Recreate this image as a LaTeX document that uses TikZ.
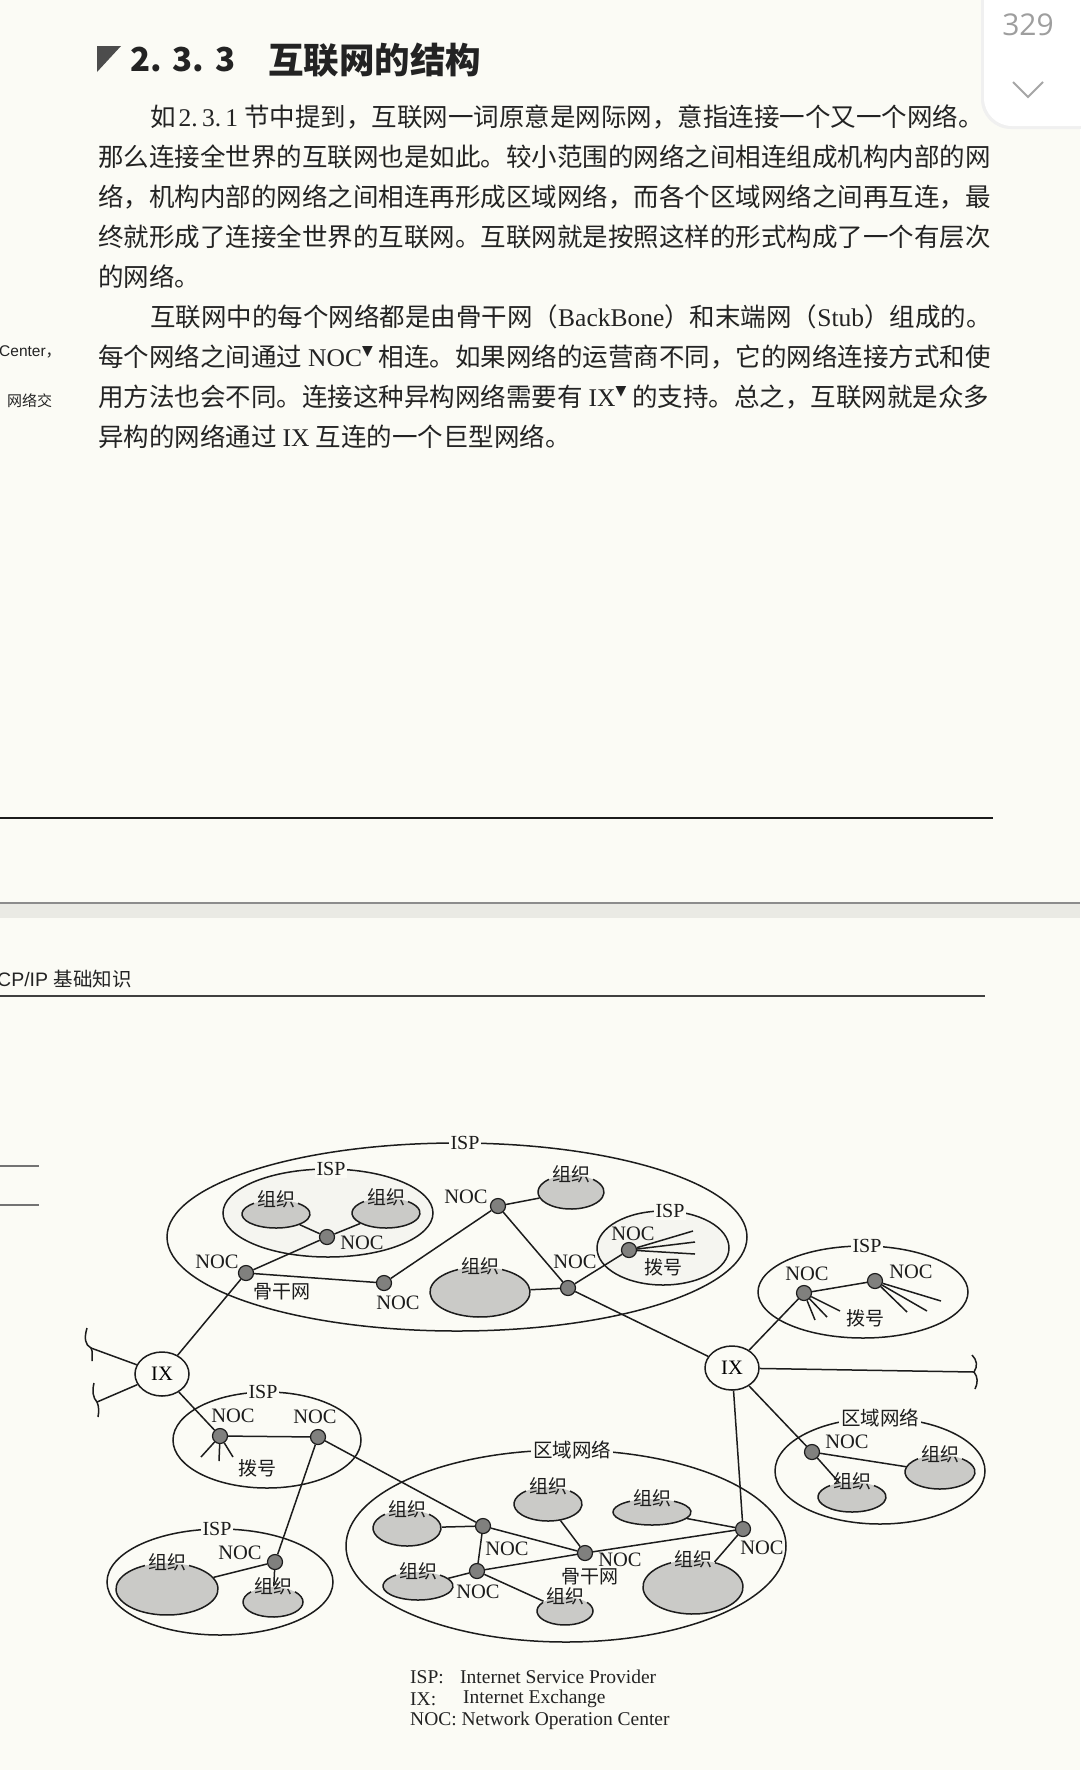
\documentclass[tikz,border=0pt]{standalone}
\usepackage{fontspec}
\setmainfont{Liberation Serif}
\setsansfont{Liberation Sans}
\newfontfamily\cjk{Noto Sans CJK SC}
\newfontfamily\dejavu{DejaVu Sans}
\newfontfamily\numfont{Open Sans}
\usetikzlibrary{shapes.geometric,calc}
\XeTeXlinebreaklocale "zh"
\XeTeXlinebreakskip=0pt plus 3pt minus 1pt
\definecolor{pagebg}{RGB}{251,251,245}
\definecolor{ink}{RGB}{28,28,28}
\definecolor{textcol}{RGB}{35,35,35}
\definecolor{orgfill}{RGB}{202,202,199}
\definecolor{nocfill}{RGB}{128,128,126}
\definecolor{innerfill}{RGB}{245,245,240}
\definecolor{bandcol}{RGB}{234,234,228}
\newcommand\lat[1]{{\rmfamily #1}}
\newcommand\tri{\raisebox{0.42em}{\dejavu\fontsize{14}{14}\selectfont ▼}}
\newcommand\bline[4]{\node[anchor=west,inner sep=0,body] at (#1,#2) {\makebox[#3pt][s]{#4}};}
\newcommand\orgnet[6]{%
  \node[orgshape,minimum width=#4*2pt,minimum height=#5*2pt] (#1) at (#2,#3) {};
  \pgfmathsetmacro\gapang{acos(min(0.9,22/#4))}%
  \draw[net] (#1.center) ++({180-\gapang}:#4pt and #5pt) arc[start angle={180-\gapang},end angle={360+\gapang},x radius=#4pt,y radius=#5pt];
  \node[orglbl] (#1l) at (#1.north) {#6};
}
\begin{document}
\begin{tikzpicture}[x=1pt,y=-1pt,
  body/.style={font=\cjk\fontsize{25.5}{40}\selectfont,text=textcol},
  net/.style={draw=ink,line width=1.5pt},
  netell/.style={ellipse,draw=ink,line width=1.5pt,inner sep=0,outer sep=0},
  netlbl/.style={fill=pagebg,inner sep=2pt,text=ink,font=\fontsize{20}{20}\selectfont},
  orgshape/.style={ellipse,fill=orgfill,inner sep=0,outer sep=0.7pt},
  orglbl/.style={inner sep=0,text=ink,font=\cjk\fontsize{19}{19}\selectfont},
  noc/.style={circle,draw=ink,fill=nocfill,line width=1.2pt,minimum size=15pt,inner sep=0},
  nlbl/.style={inner sep=0,text=ink,font=\fontsize{20.5}{20.5}\selectfont},
  clbl/.style={inner sep=0,text=ink,font=\cjk\fontsize{19}{19}\selectfont},
  ix/.style={ellipse,draw=ink,fill=pagebg,line width=1.5pt,minimum width=54pt,minimum height=44pt,inner sep=0,font=\fontsize{20.5}{20.5}\selectfont},
  legend/.style={anchor=west,inner sep=0,text=textcol,font=\fontsize{19.5}{19.5}\selectfont}]
\useasboundingbox (0,0) rectangle (1080,1770);
\fill[pagebg] (0,0) rectangle (1080,1770);
% page number card
\fill[black!6,rounded corners=30pt] (981,-40) rectangle (1110,129);
\fill[white,rounded corners=28pt] (984,-40) rectangle (1110,126);
\node[text=black!38,font=\numfont\fontsize{30}{30}\selectfont] (pnum) at (1028,25) {329};
\coordinate (chv1) at (1013,82); \coordinate (chv2) at (1028,97); \coordinate (chv3) at (1043,82);
\draw[black!35,line width=2pt] (chv1) -- (chv2) -- (chv3);
% heading
\fill[black!70] (97,46) -- (121,46) -- (97,72) -- cycle;
\node[anchor=west,inner sep=0,text=textcol,font=\cjk\bfseries\fontsize{33}{33}\selectfont] (hnum) at (130,60) {2.\,\,3.\,\,3};
\node[anchor=west,inner sep=0,text=textcol,font=\cjk\bfseries\fontsize{35.5}{35.5}\selectfont] (htitle) at (268,60) {互联网的结构};
% body text
\bline{150}{117}{847}{如\hspace{3pt}\lat{2.\,3.\,1}\hspace{6pt}节中提到，互联网一词原意是网际网，意指连接一个又一个网络。}
\bline{98}{157}{895}{那么连接全世界的互联网也是如此。较小范围的网络之间相连组成机构内部的网}
\bline{98}{197}{895}{络，机构内部的网络之间相连再形成区域网络，而各个区域网络之间再互连，最}
\bline{98}{237}{895}{终就形成了连接全世界的互联网。互联网就是按照这样的形式构成了一个有层次}
\node[anchor=west,inner sep=0,body] (l5) at (98,277) {的网络。};
\bline{150}{317}{847}{互联网中的每个网络都是由骨干网（\lat{BackBone}）和末端网（\lat{Stub}）组成的。}
\bline{98}{357}{895}{每个网络之间通过\hspace{6pt}\lat{NOC}\tri\hspace{6pt}相连。如果网络的运营商不同，它的网络连接方式和使}
\bline{98}{397}{895}{用方法也会不同。连接这种异构网络需要有\hspace{6pt}\lat{IX}\tri\hspace{6pt}的支持。总之，互联网就是众多}
\node[anchor=west,inner sep=0,body] (l9) at (98,437) {异构的网络通过\hspace{6pt}\lat{IX}\hspace{6pt}互连的一个巨型网络。};
% margin notes
\node[anchor=west,inner sep=0,text=textcol,font=\sffamily\fontsize{15.5}{15.5}\selectfont] (m1) at (-1,352) {Center\cjk ，};
\node[anchor=west,inner sep=0,text=textcol,font=\cjk\fontsize{15}{15}\selectfont] (m2) at (7,401) {网络交};
% rules and page break
\draw[ink,line width=2.6pt] (0,818) -- (993,818);
\fill[bandcol] (0,903) rectangle (1080,918);
\draw[black!45,line width=1.2pt] (0,903) -- (1080,903);
\node[anchor=west,inner sep=0,text=textcol,font=\sffamily\fontsize{19.5}{19.5}\selectfont] (hdr) at (-3,979) {CP/IP {\cjk 基础知识}};
\draw[black!75,line width=1.4pt] (0,996) -- (985,996);
\draw[black!55,line width=1.2pt] (0,1166) -- (39,1166);
\draw[black!55,line width=1.2pt] (0,1205) -- (39,1205);
% ===== network ellipses =====
\node[netell,minimum width=580pt,minimum height=188pt] (ispA) at (457,1237) {};
\node[netell,fill=innerfill,minimum width=210pt,minimum height=88pt] (ispB) at (328,1213) {};
\node[netell,fill=innerfill,minimum width=132pt,minimum height=74pt] (ispC) at (663,1248) {};
\node[netell,minimum width=210pt,minimum height=92pt] (ispD) at (863,1292) {};
\node[netell,minimum width=188pt,minimum height=96pt] (ispE) at (267,1440) {};
\node[netell,minimum width=226pt,minimum height=106pt] (ispF) at (220,1582) {};
\node[netell,minimum width=440pt,minimum height=192pt] (regA) at (566,1546) {};
\node[netell,minimum width=210pt,minimum height=106pt] (regB) at (880,1471) {};
\node[netlbl] (ispAl) at ($(ispA.north)+(8,0)$) {ISP};
\node[netlbl] (ispBl) at ($(ispB.north)+(3,0)$) {ISP};
\node[netlbl] (ispCl) at ($(ispC.north)+(7,0)$) {ISP};
\node[netlbl] (ispDl) at ($(ispD.north)+(4,0)$) {ISP};
\node[netlbl] (ispEl) at ($(ispE.north)+(-4,0)$) {ISP};
\node[netlbl] (ispFl) at ($(ispF.north)+(-3,0)$) {ISP};
\node[netlbl,font=\cjk\fontsize{19.5}{19.5}\selectfont] (regAl) at ($(regA.north)+(6,0)$) {区域网络};
\node[netlbl,font=\cjk\fontsize{19.5}{19.5}\selectfont] (regBl) at (regB.north) {区域网络};
% ===== NOC dots and IX =====
\node[noc] (a) at (327,1237) {};
\node[noc] (b) at (246,1273) {};
\node[noc] (c) at (384,1283) {};
\node[noc] (d) at (498,1206) {};
\node[noc] (e) at (568,1288) {};
\node[noc] (f) at (629,1250) {};
\node[noc] (g) at (804,1293) {};
\node[noc] (h) at (875,1281) {};
\node[noc] (i) at (743,1529) {};
\node[noc] (j) at (812,1452) {};
\node[noc] (k) at (483,1526) {};
\node[noc] (l) at (477,1571) {};
\node[noc] (m) at (585,1553) {};
\node[noc] (n) at (318,1437) {};
\node[noc] (o) at (220,1436) {};
\node[noc] (p) at (275,1562) {};
\node[ix] (ix1) at (162,1374) {IX};
\node[ix] (ix2) at (732,1368) {IX};
% ===== organisations =====
\orgnet{o1}{276}{1214}{34}{14}{组织}
\orgnet{o2}{386}{1213}{34}{15}{组织}
\orgnet{o3}{571}{1192}{33}{17}{组织}
\orgnet{o4}{480}{1292}{50}{25}{组织}
\orgnet{o5}{852}{1497}{34}{15}{组织}
\orgnet{o6}{940}{1472}{35}{17}{组织}
\orgnet{o7}{407}{1528}{34}{18}{组织}
\orgnet{o8}{418}{1586}{35}{14}{组织}
\orgnet{o9}{548}{1504}{34}{17}{组织}
\orgnet{o10}{652}{1512}{39}{13}{组织}
\orgnet{o11}{693}{1587}{50}{27}{组织}
\orgnet{o12}{565}{1611}{28}{14}{组织}
\orgnet{o13}{167}{1589}{51}{26}{组织}
\orgnet{o14}{273}{1602}{30}{15}{组织}
% ===== free ends =====
\coordinate (cl1) at (91,1348);
\coordinate (cl2) at (97,1402);
\coordinate (cr) at (974,1372);
\coordinate (fd1) at (693,1231); \coordinate (fd2) at (695,1242); \coordinate (fd3) at (695,1254);
\coordinate (gd1) at (815,1320); \coordinate (gd2) at (827,1317); \coordinate (gd3) at (840,1311);
\coordinate (hd1) at (907,1312); \coordinate (hd2) at (927,1311); \coordinate (hd3) at (941,1301);
\coordinate (od1) at (201,1457); \coordinate (od2) at (219,1461); \coordinate (od3) at (233,1457);
% ===== connectors =====
\begin{scope}[net]
\draw (a) -- (o1); \draw (a) -- (o2); \draw (b) -- (a);
\draw (b) -- (c); \draw (c) -- (d); \draw (d) -- (o3); \draw (d) -- (e);
\draw (o4) -- (e); \draw (e) -- (f); \draw (e) -- (ix2); \draw (b) -- (ix1);
\draw (ix1) -- (cl1); \draw (ix1) -- (cl2); \draw (ix1) -- (o);
\draw (o) -- (n); \draw (n) -- (p); \draw (n) -- (k);
\draw (p) -- (o13); \draw (p) -- (o14);
\draw (o7) -- (k); \draw (k) -- (l); \draw (k) -- (m); \draw (l) -- (m);
\draw (l) -- (o8); \draw (l) -- (o12); \draw (o9) -- (m); \draw (m) -- (i);
\draw (o10) -- (i); \draw (i) -- (o11); \draw (ix2) -- (i); \draw (ix2) -- (j);
\draw (j) -- (o5); \draw (j) -- (o6); \draw (ix2) -- (cr);
\draw (g) -- (ix2); \draw (g) -- (h);
\draw (f) -- (fd1); \draw (f) -- (fd2); \draw (f) -- (fd3);
\draw (g) -- (gd1); \draw (g) -- (gd2); \draw (g) -- (gd3);
\draw (h) -- (hd1); \draw (h) -- (hd2); \draw (h) -- (hd3);
\draw (o) -- (od1); \draw (o) -- (od2); \draw (o) -- (od3);
% curls at the cut ends
\draw (87,1328) .. controls (84,1338) and (85,1345) .. (cl1) .. controls (93,1352) and (92,1356) .. (92,1361);
\draw (94,1383) .. controls (92,1391) and (93,1398) .. (cl2) .. controls (99,1406) and (99,1412) .. (98,1417);
\draw (972,1355) .. controls (977,1360) and (978,1366) .. (cr) .. controls (978,1377) and (978,1383) .. (975,1389);
\end{scope}
% ===== labels =====
\node[nlbl] (al) at (362,1243) {NOC};
\node[nlbl] (bl) at (217,1262) {NOC};
\node[clbl] (bbl) at (282,1292) {骨干网};
\node[nlbl] (cl) at (398,1303) {NOC};
\node[nlbl] (dl) at (466,1197) {NOC};
\node[nlbl] (el) at (575,1262) {NOC};
\node[nlbl] (fl) at (633,1234) {NOC};
\node[clbl] (fdl) at (663,1267) {拨号};
\node[nlbl] (gl) at (807,1274) {NOC};
\node[nlbl] (hl) at (911,1272) {NOC};
\node[clbl] (gdl) at (865,1318) {拨号};
\node[nlbl] (il) at (762,1548) {NOC};
\node[nlbl] (jl) at (847,1442) {NOC};
\node[nlbl] (kl) at (507,1549) {NOC};
\node[nlbl] (ll) at (478,1592) {NOC};
\node[nlbl] (ml) at (620,1560) {NOC};
\node[clbl] (mbl) at (590,1577) {骨干网};
\node[nlbl] (nl) at (315,1417) {NOC};
\node[nlbl] (ol) at (233,1416) {NOC};
\node[clbl] (odl) at (257,1468) {拨号};
\node[nlbl] (pl) at (240,1553) {NOC};
% ===== legend =====
\node[legend] (lg1) at (410,1677) {ISP:};
\node[legend] (lg1b) at (460,1677) {Internet Service Provider};
\node[legend] (lg2) at (410,1699) {IX:};
\node[legend] (lg2b) at (463,1699) {Internet Exchange};
\node[legend] (lg3) at (410,1721) {NOC: Network Operation Center};
\end{tikzpicture}
\end{document}
